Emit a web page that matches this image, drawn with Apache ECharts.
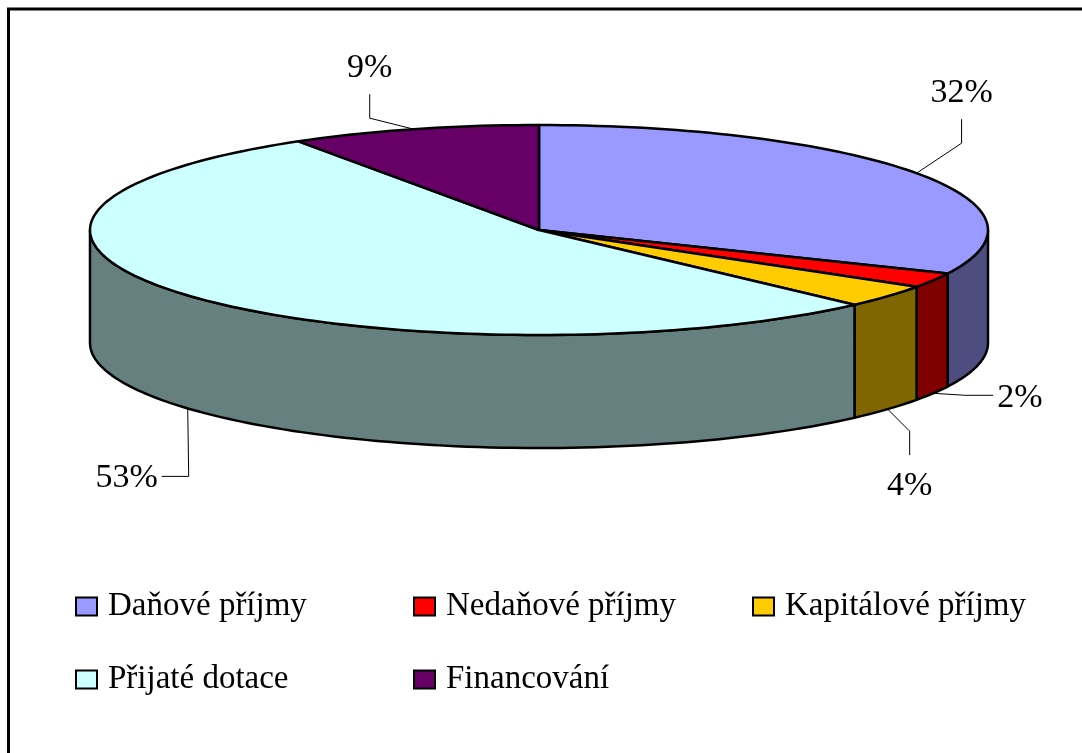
<!DOCTYPE html>
<html>
<head>
<meta charset="utf-8">
<style>
html, body { margin: 0; padding: 0; background: #fff; }
#chart { width: 1082px; height: 753px; }
</style>
<script src="https://cdn.jsdelivr.net/npm/echarts@6/dist/echarts.min.js"></script>
</head>
<body>
<div id="chart"></div>
<script>
var categories = ['Daňové příjmy', 'Nedaňové příjmy', 'Kapitálové příjmy', 'Přijaté dotace', 'Financování'];
var shares = [31.8, 2.3, 3.5, 53.4, 9];
var topColors = ['#9999ff', '#ff0000', '#ffcc00', '#ccffff', '#660066'];
var wallColors = ['#4d4d80', '#800000', '#806600', '#668080', '#330033'];
var legendColumns = [[0, 3], [1, 4], [2]];
var legendLefts = [75, 413, 752];

// pie geometry, the slices are a tilted disc so a circle is squashed to an ellipse
var cx = 539, cy = 230, rx = 449, ry = 105, depth = 113;
var fontFamily = '"Liberation Serif", serif';

// leader elbow, leader end and label anchor, relative to the rim point of the slice
var leaders = [
    { elbow: [45, -30], end: [45, -54], text: [45, -80], align: 'center', onBottom: false },
    { elbow: [32, 2], end: [60, 2], text: [64, 5], align: 'left', onBottom: true },
    { elbow: [22, 22], end: [22, 46], text: [22, 77], align: 'center', onBottom: true },
    { elbow: [1, 68], end: [-26, 68], text: [-30, 70], align: 'right', onBottom: true },
    { elbow: [-44, -11], end: [-44, -35], text: [-44, -61], align: 'center', onBottom: false }
];

function rimPoint(deg, dy) {
    var a = deg * Math.PI / 180;
    return [cx + rx * Math.sin(a), cy - ry * Math.cos(a) + (dy || 0)];
}

function arcPoints(from, to, dy) {
    var pts = [];
    var steps = Math.max(2, Math.ceil(Math.abs(to - from) / 1.5));
    for (var i = 0; i <= steps; i++) {
        pts.push(rimPoint(from + (to - from) * i / steps, dy));
    }
    return pts;
}

function sliceRenderer(index, from, to) {
    return function () {
        var children = [];
        var lineStyle = { stroke: '#000', lineWidth: 2.5, lineJoin: 'round' };

        // only the front half of the disc shows a wall
        var wallFrom = Math.max(from, 90);
        var wallTo = Math.min(to, 270);
        if (wallTo > wallFrom) {
            var wall = arcPoints(wallFrom, wallTo, 0).concat(arcPoints(wallTo, wallFrom, depth));
            children.push({
                type: 'polygon',
                shape: { points: wall },
                style: echarts.util.extend({ fill: wallColors[index] }, lineStyle)
            });
        }

        children.push({
            type: 'polygon',
            shape: { points: [[cx, cy]].concat(arcPoints(from, to, 0)) },
            style: echarts.util.extend({ fill: topColors[index] }, lineStyle)
        });

        var leader = leaders[index];
        var rim = rimPoint((from + to) / 2, leader.onBottom ? depth : 0);
        children.push({
            type: 'polyline',
            shape: {
                points: [
                    rim,
                    [rim[0] + leader.elbow[0], rim[1] + leader.elbow[1]],
                    [rim[0] + leader.end[0], rim[1] + leader.end[1]]
                ]
            },
            style: { stroke: '#000', lineWidth: 1, fill: null }
        });
        children.push({
            type: 'text',
            x: rim[0] + leader.text[0],
            y: rim[1] + leader.text[1],
            style: {
                text: Math.round(shares[index]) + '%',
                font: '34px ' + fontFamily,
                fill: '#000',
                align: leader.align,
                verticalAlign: 'middle'
            }
        });

        return { type: 'group', children: children };
    };
}

var series = [];
var acc = 0;
shares.forEach(function (share, i) {
    var from = acc * 3.6;
    acc += share;
    series.push({
        type: 'custom',
        name: categories[i],
        coordinateSystem: 'none',
        silent: true,
        animation: false,
        itemStyle: { color: topColors[i] },
        data: [share],
        renderItem: sliceRenderer(i, from, acc * 3.6)
    });
});

var legends = legendColumns.map(function (column, i) {
    return {
        orient: 'vertical',
        left: legendLefts[i],
        top: 590,
        padding: 0,
        itemWidth: 21,
        itemHeight: 18,
        itemGap: 40,
        selectedMode: false,
        icon: 'rect',
        itemStyle: { borderColor: '#000', borderWidth: 2 },
        textStyle: { fontFamily: fontFamily, fontSize: 33, color: '#000', padding: [0, 0, 0, 6] },
        data: column.map(function (idx) { return categories[idx]; })
    };
});

var chart = echarts.init(document.getElementById('chart'), null, { renderer: 'canvas' });
chart.setOption({
    backgroundColor: '#fff',
    animation: false,
    // frame of the picture, cut off on the right and at the bottom
    graphic: [{
        type: 'polyline',
        shape: { points: [[8.5, 753], [8.5, 9], [1082, 9]] },
        style: { fill: null, stroke: '#000', lineWidth: 3 },
        silent: true
    }],
    legend: legends,
    series: series
});
</script>
</body>
</html>
